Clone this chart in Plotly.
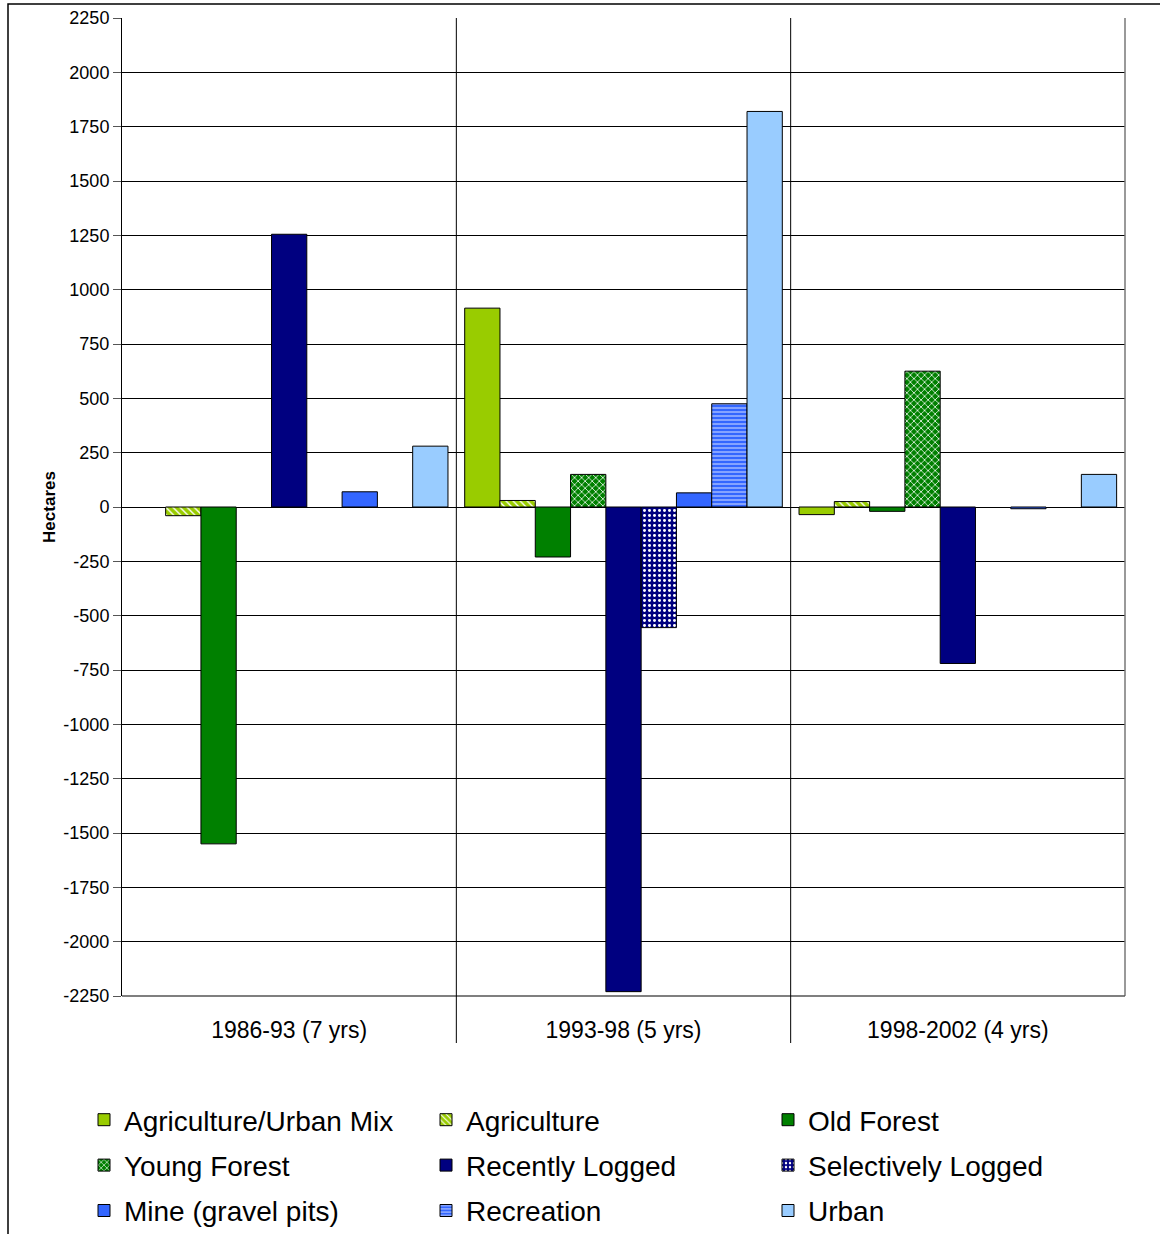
import plotly.graph_objects as go

categories = ["1986-93 (7 yrs)", "1993-98 (5 yrs)", "1998-2002 (4 yrs)"]

agri_urban_mix = [None, 915, -35]
agriculture = [-40, 30, 25]
old_forest = [-1550, -230, -20]
young_forest = [None, 150, 625]
recently_logged = [1255, -2230, -720]
selectively_logged = [None, -555, None]
mine = [70, 65, -8]
recreation = [None, 475, None]
urban = [280, 1820, 150]

y_tick_values = [2250, 2000, 1750, 1500, 1250, 1000, 750, 500, 250, 0,
                 -250, -500, -750, -1000, -1250, -1500, -1750, -2000, -2250]
y_tick_labels = ["2250", "2000", "1750", "1500", "1250", "1000", "750", "500", "250", "0",
                 "-250", "-500", "-750", "-1000", "-1250", "-1500", "-1750", "-2000", "-2250"]

series = [
    ("Agriculture/Urban Mix", agri_urban_mix, "#99CC00", "", "legend"),
    ("Agriculture", agriculture, "#99CC00", "\\", "legend2"),
    ("Old Forest", old_forest, "#008000", "", "legend3"),
    ("Young Forest", young_forest, "#008000", "x", "legend"),
    ("Recently Logged", recently_logged, "#000080", "", "legend2"),
    ("Selectively Logged", selectively_logged, "#000080", ".", "legend3"),
    ("Mine (gravel pits)", mine, "#3366FF", "", "legend"),
    ("Recreation", recreation, "#3366FF", "-", "legend2"),
    ("Urban", urban, "#99CCFF", "", "legend3"),
]

FONT = "Liberation Sans, Arial, sans-serif"

fig = go.Figure()
for name, vals, color, shape, leg in series:
    marker = dict(color=color, line=dict(color="black", width=1))
    if shape:
        sz, sol = (4, 0.2) if shape == "-" else (5, 0.28)
        marker["pattern"] = dict(shape=shape, fgcolor="white", bgcolor=color,
                                 size=sz, solidity=sol, fillmode="replace")
    fig.add_trace(go.Bar(name=name, x=categories, y=vals, marker=marker,
                         legend=leg, legendgroup=name))

W, H = 1160, 1234
ml, mr, mt, mb = 122, 35, 18, 238
pw = W - ml - mr
ph = H - mt - mb

def px_x(p):
    return (p - ml) / pw

def px_y(p):
    return (H - mb - p) / ph

legend_common = dict(
    orientation="v", xanchor="left", yanchor="top",
    font=dict(family=FONT, size=28, color="black"),
    bgcolor="rgba(0,0,0,0)", tracegroupgap=6,
    itemclick=False, itemdoubleclick=False,
)
ly = px_y(1095)

fig.update_layout(
    width=W, height=H,
    margin=dict(l=ml, r=mr, t=mt, b=mb, autoexpand=False),
    paper_bgcolor="white", plot_bgcolor="white",
    barmode="group", bargap=0.05, bargroupgap=0,
    font=dict(family=FONT, size=18, color="black"),
    legend=dict(x=px_x(84), y=ly, **legend_common),
    legend2=dict(x=px_x(426), y=ly, **legend_common),
    legend3=dict(x=px_x(768), y=ly, **legend_common),
    xaxis=dict(
        type="category", showgrid=False, ticks="", showline=False,
        tickfont=dict(family=FONT, size=23, color="black"),
        ticklabelstandoff=18,
    ),
    yaxis=dict(
        range=[-2250, 2250], tickmode="array",
        tickvals=y_tick_values, ticktext=y_tick_labels,
        showgrid=True, gridcolor="black", gridwidth=1,
        zeroline=True, zerolinecolor="black", zerolinewidth=1,
        showline=True, linecolor="black", linewidth=1,
        ticks="outside", ticklen=8, tickcolor="#555555",
        tickfont=dict(family=FONT, size=18, color="black"),
        title=dict(text="<b>Hectares</b>", font=dict(family=FONT, size=17, color="black"),
                   standoff=3),
    ),
)

# plot-area right/bottom frame
fig.add_shape(type="line", xref="paper", yref="paper", x0=1, x1=1, y0=0, y1=1,
              line=dict(color="#777777", width=1.5))
fig.add_shape(type="line", xref="paper", yref="paper", x0=0, x1=1, y0=0, y1=0,
              line=dict(color="#555555", width=1.5))
# category separators extending below the axis
for k in range(1, len(categories)):
    fig.add_shape(type="line", xref="x", yref="paper", x0=k - 0.5, x1=k - 0.5,
                  y0=px_y(1043), y1=1, line=dict(color="black", width=1))
# outer chart frame
fig.add_shape(type="rect", xref="paper", yref="paper",
              x0=px_x(8), x1=px_x(1175), y0=px_y(1250), y1=px_y(4),
              line=dict(color="black", width=1.5), fillcolor="rgba(0,0,0,0)", layer="below")

fig.write_html("out.html", config={"displayModeBar": False},
               post_script="document.body.style.margin='0';document.body.style.overflow='hidden';")
